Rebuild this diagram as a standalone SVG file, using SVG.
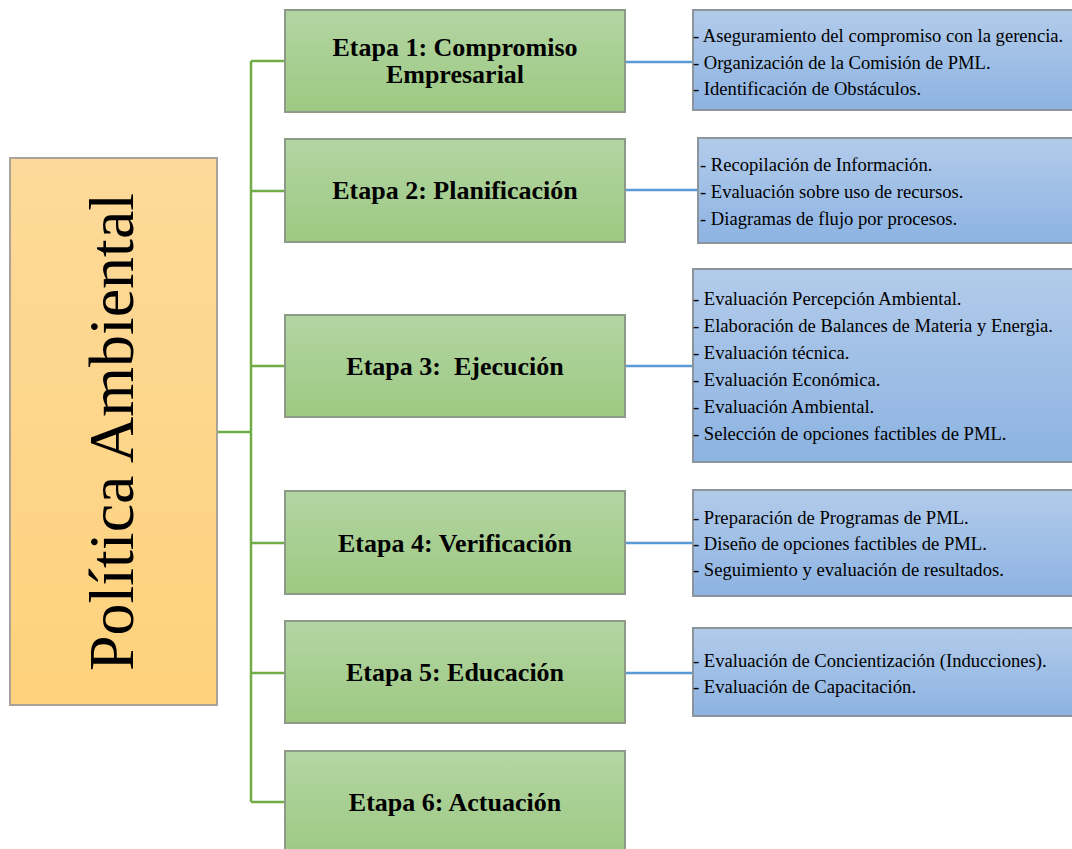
<svg xmlns="http://www.w3.org/2000/svg" width="1072" height="849" viewBox="0 0 1072 849">
<defs>
<linearGradient id="gOr" x1="0" y1="0" x2="0" y2="1"><stop offset="0" stop-color="#fdda9a"/><stop offset="1" stop-color="#fed27c"/></linearGradient>
<linearGradient id="gGr" x1="0" y1="0" x2="0" y2="1"><stop offset="0" stop-color="#b4d5a3"/><stop offset="1" stop-color="#9cc982"/></linearGradient>
<linearGradient id="gBl" x1="0" y1="0" x2="0" y2="1"><stop offset="0" stop-color="#b2cbea"/><stop offset="1" stop-color="#8db3e2"/></linearGradient>
</defs>
<style>
.or{fill:url(#gOr);stroke:#a9a29a;stroke-width:2}
.gr{fill:url(#gGr);stroke:#8e9a88;stroke-width:2}
.bl{fill:url(#gBl);stroke:#8c949c;stroke-width:2}
.gl{stroke:#70ad47;stroke-width:2.5;fill:none}
.bll{stroke:#5b9bd5;stroke-width:2.5;fill:none}
.t{font-family:"Liberation Serif","Times New Roman",serif;fill:#000}
.h{font-size:26px;font-weight:bold;text-anchor:middle}
.s{font-size:18.6px}
.big{font-size:64px;text-anchor:middle}
</style>
<rect width="1072" height="849" fill="#ffffff"/>
<g id="connectors">
<path class="gl" d="M217 432H251M251 61V802M251 61H285M251 191H285M251 366H285M251 543H285M251 673H285M251 802H285"/>
<path class="bll" d="M625 62H693M625 190H698M625 366H693M625 543H693M625 673H693"/>
</g>
<g id="politica">
<rect class="or" x="10" y="158" width="207" height="547"/>
<text class="t big" transform="translate(133 432) rotate(-90)">Política Ambiental</text>
</g>
<g id="etapa1">
<rect class="gr" x="285" y="10" width="340" height="102"/>
<text class="t h" x="455" y="56">Etapa 1: Compromiso</text>
<text class="t h" x="455" y="83">Empresarial</text>
</g>
<g id="etapa2">
<rect class="gr" x="285" y="139" width="340" height="103"/>
<text class="t h" x="455" y="199">Etapa 2: Planificación</text>
</g>
<g id="etapa3">
<rect class="gr" x="285" y="315" width="340" height="102"/>
<text class="t h" x="455" y="375" xml:space="preserve">Etapa 3:  Ejecución</text>
</g>
<g id="etapa4">
<rect class="gr" x="285" y="491" width="340" height="103"/>
<text class="t h" x="455" y="552">Etapa 4: Verificación</text>
</g>
<g id="etapa5">
<rect class="gr" x="285" y="621" width="340" height="102"/>
<text class="t h" x="455" y="681">Etapa 5: Educación</text>
</g>
<g id="etapa6">
<rect class="gr" x="285" y="751" width="340" height="110"/>
<text class="t h" x="455" y="811">Etapa 6: Actuación</text>
</g>
<g id="det1">
<rect class="bl" x="693" y="10" width="390" height="100"/>
<text class="t s" x="693" y="42">- Aseguramiento del compromiso con la gerencia.</text>
<text class="t s" x="693" y="69">- Organización de la Comisión de PML.</text>
<text class="t s" x="693" y="95">- Identificación de Obstáculos.</text>
</g>
<g id="det2">
<rect class="bl" x="698" y="138" width="385" height="105"/>
<text class="t s" x="700" y="171">- Recopilación de Información.</text>
<text class="t s" x="700" y="198">- Evaluación sobre uso de recursos.</text>
<text class="t s" x="700" y="225">- Diagramas de flujo por procesos.</text>
</g>
<g id="det3">
<rect class="bl" x="693" y="269" width="390" height="193"/>
<text class="t s" x="693" y="305">- Evaluación Percepción Ambiental.</text>
<text class="t s" x="693" y="332">- Elaboración de Balances de Materia y Energia.</text>
<text class="t s" x="693" y="359">- Evaluación técnica.</text>
<text class="t s" x="693" y="386">- Evaluación Económica.</text>
<text class="t s" x="693" y="413">- Evaluación Ambiental.</text>
<text class="t s" x="693" y="440">- Selección de opciones factibles de PML.</text>
</g>
<g id="det4">
<rect class="bl" x="693" y="490" width="390" height="106"/>
<text class="t s" x="693" y="524">- Preparación de Programas de PML.</text>
<text class="t s" x="693" y="550">- Diseño de opciones factibles de PML.</text>
<text class="t s" x="693" y="576">- Seguimiento y evaluación de resultados.</text>
</g>
<g id="det5">
<rect class="bl" x="693" y="628" width="390" height="88"/>
<text class="t s" x="693" y="667">- Evaluación de Concientización (Inducciones).</text>
<text class="t s" x="693" y="693">- Evaluación de Capacitación.</text>
</g>
</svg>
